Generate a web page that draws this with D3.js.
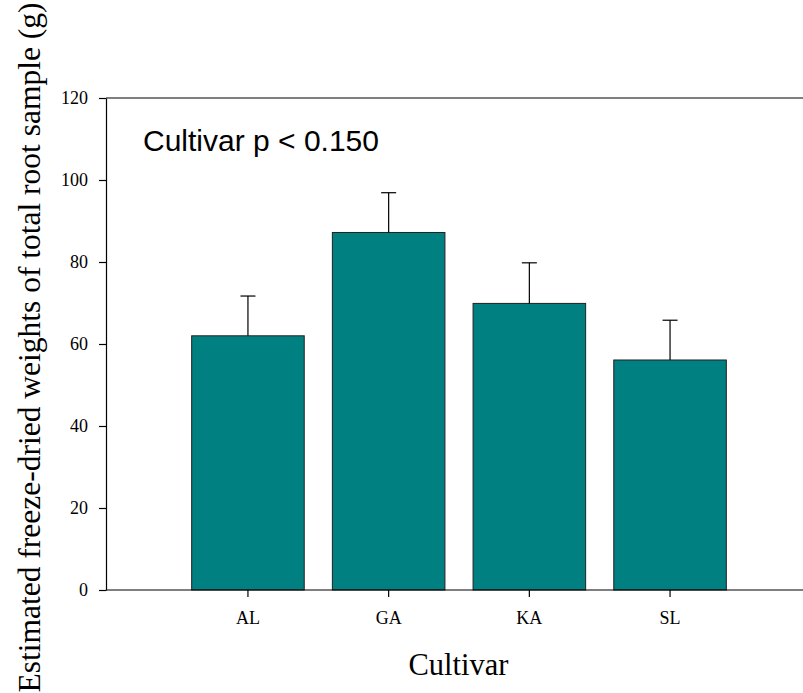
<!DOCTYPE html>
<html>
<head>
<meta charset="utf-8">
<script src="https://cdn.jsdelivr.net/npm/d3@7"></script>
<style>
  html, body { margin: 0; padding: 0; background: #fff; }
  svg { display: block; }
</style>
</head>
<body>
<svg id="chart" width="803" height="693"></svg>
<script>
const categories = ["AL", "GA", "KA", "SL"];
const values = [62, 87.2, 69.9, 56.1];
const errors = [9.7, 9.7, 9.9, 9.7];
const yTicks = [0, 20, 40, 60, 80, 100, 120];

(function () {
const svg = d3.select("#chart");
const mLeft = 106, mRight = 803, mTop = 98, mBottom = 590;

const y = d3.scaleLinear().domain([0, 120]).range([mBottom, mTop]);
const x = d3.scaleBand().domain(categories)
  .range([177.6, 740.4]).paddingInner(0.2).paddingOuter(0.1);

// top frame line
svg.append("line").attr("x1", mLeft).attr("x2", mRight).attr("y1", mTop).attr("y2", mTop)
  .attr("stroke", "#000").attr("stroke-width", 1.2);

// bars
const data = categories.map((c, i) => ({ c, v: values[i], e: errors[i] }));
svg.append("g").selectAll("rect").data(data).join("rect")
  .attr("x", d => x(d.c))
  .attr("y", d => y(d.v))
  .attr("width", x.bandwidth())
  .attr("height", d => y(0) - y(d.v))
  .attr("fill", "#008080")
  .attr("stroke", "#222")
  .attr("stroke-width", 1);

// error bars
const eg = svg.append("g").attr("stroke", "#000").attr("stroke-width", 1.2);
eg.selectAll("line.v").data(data).join("line").attr("class", "v")
  .attr("x1", d => x(d.c) + x.bandwidth() / 2)
  .attr("x2", d => x(d.c) + x.bandwidth() / 2)
  .attr("y1", d => y(d.v))
  .attr("y2", d => y(d.v + d.e));
eg.selectAll("line.c").data(data).join("line").attr("class", "c")
  .attr("x1", d => x(d.c) + x.bandwidth() / 2 - 7.5)
  .attr("x2", d => x(d.c) + x.bandwidth() / 2 + 7.5)
  .attr("y1", d => y(d.v + d.e))
  .attr("y2", d => y(d.v + d.e));

// y axis
const yAxis = d3.axisLeft(y).tickValues(yTicks).tickSize(7).tickSizeOuter(0).tickPadding(11);
const gy = svg.append("g").attr("transform", `translate(${mLeft},0)`).call(yAxis);
gy.select(".domain").attr("stroke", "#000").attr("stroke-width", 1.2);
gy.selectAll(".tick line").attr("stroke", "#000").attr("stroke-width", 1.2);
gy.selectAll(".tick text").attr("font-family", "'Liberation Serif', 'Times New Roman', serif")
  .attr("font-size", 18).attr("fill", "#000");

// x axis
const xAxis = d3.axisBottom(x).tickSize(7).tickSizeOuter(0).tickPadding(14);
const gx = svg.append("g").attr("transform", `translate(0,${mBottom})`).call(xAxis);
gx.select(".domain").attr("d", `M${mLeft},0H${mRight}`).attr("stroke", "#000").attr("stroke-width", 1.2);
gx.selectAll(".tick line").attr("stroke", "#000").attr("stroke-width", 1.2);
gx.selectAll(".tick text").attr("font-family", "'Liberation Serif', 'Times New Roman', serif")
  .attr("font-size", 18).attr("fill", "#000");

// annotation
svg.append("text").attr("x", 143).attr("y", 151)
  .attr("font-family", "'Liberation Sans', Arial, sans-serif").attr("font-size", 30)
  .attr("fill", "#000").text("Cultivar p < 0.150");

// axis titles
svg.append("text").attr("x", (mLeft + mRight) / 2 + 4).attr("y", 675)
  .attr("text-anchor", "middle")
  .attr("font-family", "'Liberation Serif', 'Times New Roman', serif").attr("font-size", 30.5)
  .attr("fill", "#000").text("Cultivar");

svg.append("text").attr("transform", "translate(40,347.5) rotate(-90)")
  .attr("text-anchor", "middle")
  .attr("font-family", "'Liberation Serif', 'Times New Roman', serif").attr("font-size", 31.5)
  .attr("fill", "#000").text("Estimated freeze-dried weights of total root sample (g)");
})();
</script>
</body>
</html>
